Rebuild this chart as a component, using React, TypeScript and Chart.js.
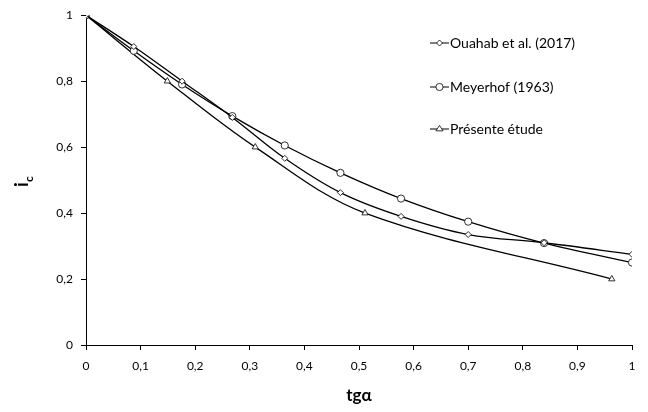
import React, { useEffect, useRef } from "react";
import { Chart, registerables } from "chart.js";
Chart.register(...registerables);

const tgMeyerhof = [0, 0.0875, 0.176, 0.268, 0.364, 0.466, 0.577, 0.7, 0.839, 1.0];
const icMeyerhof = [1, 0.892, 0.79, 0.694, 0.605, 0.522, 0.444, 0.374, 0.309, 0.25];
const tgOuahab = [0, 0.0875, 0.176, 0.268, 0.364, 0.466, 0.577, 0.7, 0.839, 1.0];
const icOuahab = [1, 0.905, 0.8, 0.69, 0.566, 0.462, 0.39, 0.335, 0.31, 0.275];
const tgEtude = [0, 0.149, 0.31, 0.511, 0.963];
const icEtude = [1, 0.8, 0.6, 0.4, 0.2];
const seriesNames = ["Ouahab et al. (2017)", "Meyerhof (1963)", "Présente étude"];
const FONT = "Lato, 'Liberation Sans', sans-serif";

const fmt = (v: number) => String(Math.round(v * 10) / 10).replace(".", ",");

function marker(ctx: CanvasRenderingContext2D, style: string, r: number, x: number, y: number) {
  ctx.beginPath();
  if (style === "circle") {
    ctx.arc(x, y, r, 0, Math.PI * 2);
  } else if (style === "rectRot") {
    ctx.moveTo(x, y - r);
    ctx.lineTo(x + r, y);
    ctx.lineTo(x, y + r);
    ctx.lineTo(x - r, y);
    ctx.closePath();
  } else {
    const h = r * 1.5;
    ctx.moveTo(x, y - h * 0.66);
    ctx.lineTo(x + r, y + h * 0.34);
    ctx.lineTo(x - r, y + h * 0.34);
    ctx.closePath();
  }
  ctx.fill();
  ctx.stroke();
}

const legendPlugin = {
  id: "customLegend",
  afterDraw(chart: any) {
    const ctx = chart.ctx;
    const ys = [43, 87, 129];
    chart.data.datasets.forEach((ds: any, i: number) => {
      const y = ys[i];
      ctx.save();
      ctx.strokeStyle = "#000";
      ctx.lineWidth = 1;
      ctx.beginPath();
      ctx.moveTo(430, y);
      ctx.lineTo(449, y);
      ctx.stroke();
      ctx.fillStyle = "#fff";
      ctx.lineWidth = 0.8;
      marker(ctx, ds.pointStyle, ds.pointRadius, 439.5, y);
      ctx.fillStyle = "#000";
      ctx.font = `14px ${FONT}`;
      ctx.textBaseline = "middle";
      ctx.textAlign = "left";
      ctx.fillText(ds.label, 450, y);
      ctx.restore();
    });
    ctx.save();
    ctx.fillStyle = "#000";
    ctx.font = `bold 17px ${FONT}`;
    ctx.textAlign = "center";
    ctx.textBaseline = "middle";
    const xc = (chart.chartArea.left + chart.chartArea.right) / 2;
    ctx.fillText("tgα", xc, 396);
    ctx.translate(28, 184);
    ctx.rotate(-Math.PI / 2);
    ctx.textAlign = "left";
    ctx.textBaseline = "alphabetic";
    ctx.font = `bold 19px ${FONT}`;
    ctx.fillText("i", -3, 0);
    ctx.font = `bold 12px ${FONT}`;
    ctx.fillText("c", 2, 5);
    ctx.restore();
  },
};

export default function App() {
  const ref = useRef<HTMLCanvasElement>(null);
  useEffect(() => {
    const mk = (xs: number[], ys: number[]) => xs.map((x, i) => ({ x, y: ys[i] }));
    const common = {
      borderColor: "#000",
      borderWidth: 1.3,
      pointBackgroundColor: "#fff",
      pointBorderColor: "#000",
      pointBorderWidth: 0.8,
      tension: 0.35,
      showLine: true,
      fill: false,
    };
    const chart = new Chart(ref.current!, {
      type: "scatter",
      data: {
        datasets: [
          { ...common, label: seriesNames[0], data: mk(tgOuahab, icOuahab), pointStyle: "rectRot", pointRadius: 3 },
          { ...common, label: seriesNames[1], data: mk(tgMeyerhof, icMeyerhof), pointStyle: "circle", pointRadius: 3.6 },
          { ...common, label: seriesNames[2], data: mk(tgEtude, icEtude), pointStyle: "triangle", pointRadius: 3.6 },
        ] as any,
      },
      options: {
        animation: false,
        responsive: false,
        layout: { padding: { top: 15, right: 16, left: 0, bottom: 0 } },
        plugins: { legend: { display: false }, tooltip: { enabled: false } },
        scales: {
          x: {
            type: "linear",
            min: 0,
            max: 1,
            ticks: { stepSize: 0.1, callback: (v: any) => fmt(v), color: "#000", font: { family: FONT, size: 12 }, padding: 9, maxRotation: 0 },
            grid: { drawOnChartArea: false, drawTicks: true, tickLength: 5, color: "#000" },
            border: { color: "#000", width: 1 },
            afterFit: (s: any) => { s.height = 67; },
          },
          y: {
            type: "linear",
            min: 0,
            max: 1,
            ticks: { stepSize: 0.2, callback: (v: any) => fmt(v), color: "#000", font: { family: FONT, size: 12 }, padding: 8 },
            grid: { drawOnChartArea: false, drawTicks: true, tickLength: 5, color: "#000" },
            border: { color: "#000", width: 1 },
            afterFit: (s: any) => { s.width = 86; },
          },
        },
      } as any,
      plugins: [legendPlugin],
    });
    return () => chart.destroy();
  }, []);
  return (
    <div style={{ position: "fixed", left: 0, top: 0, width: 648, height: 412, background: "#fff" }}>
      <canvas ref={ref} width={648} height={412} style={{ width: 648, height: 412 }} />
    </div>
  );
}
